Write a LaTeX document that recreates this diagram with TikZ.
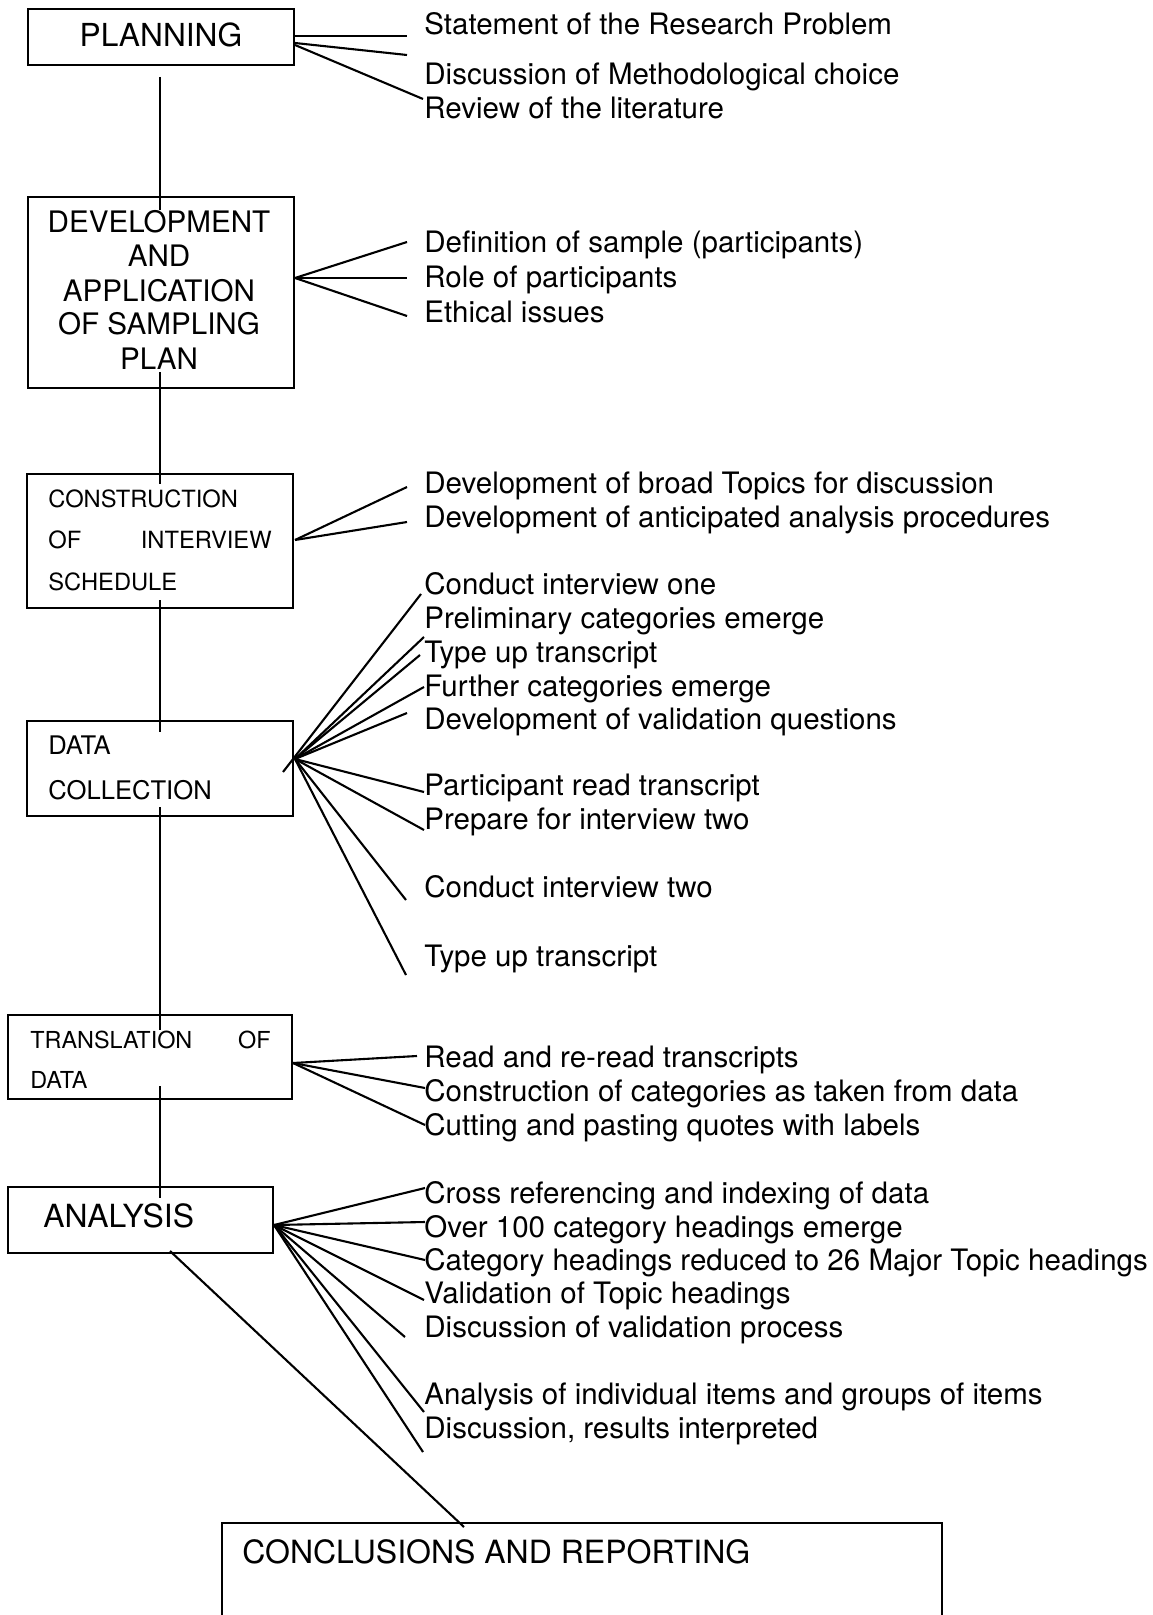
\documentclass[tikz,border=0pt]{standalone}
\usepackage{fontspec}
\setmainfont{TeX Gyre Heros}
\begin{document}
\begin{tikzpicture}[x=0.5pt,y=-0.5pt,
  box/.style={draw, line width=1.3pt, inner sep=0pt},
  conn/.style={line width=1.05pt},
  item/.style={anchor=base west, inner sep=0pt, font=\fontsize{14.75}{17}\selectfont},
  btxt/.style={inner sep=0pt, font=\fontsize{#1}{17}\selectfont},
]
\useasboundingbox (0,0) rectangle (1152,1615);

% ---------- boxes ----------
\node[box, minimum width=133pt, minimum height=28pt] (plan) at (161,37) {};
\node[box, minimum width=133pt, minimum height=95.5pt] (dev) at (161,292.5) {};
\node[box, minimum width=133pt, minimum height=67pt] (cons) at (160,541) {};
\node[box, minimum width=133pt, minimum height=47.5pt] (data) at (160,768.5) {};
\node[box, minimum width=142pt, minimum height=42pt] (trans) at (150,1057) {};
\node[box, minimum width=132.5pt, minimum height=33pt] (anal) at (140.5,1220) {};
\node[box, minimum width=360pt, minimum height=58.5pt] (conc) at (582,1581.5) {};

% ---------- box texts ----------
\node[btxt=15.85, anchor=base] (tplan) at (161,47) {PLANNING};
\node[btxt=14.8, anchor=base] (tdev1) at (159,233) {DEVELOPMENT};
\node[btxt=14.8, anchor=base] (tdev2) at (159,267) {AND};
\node[btxt=14.8, anchor=base] (tdev3) at (159,302) {APPLICATION};
\node[btxt=14.8, anchor=base] (tdev4) at (159,335) {OF SAMPLING};
\node[btxt=14.8, anchor=base] (tdev5) at (159,370) {PLAN};
\node[btxt=11.85, anchor=base west] (tcons1) at (48,507) {CONSTRUCTION};
\node[btxt=11.85, anchor=base west] (tcons2) at (48,548) {OF};
\node[btxt=11.85, anchor=base east] (tcons3) at (272,548) {INTERVIEW};
\node[btxt=11.85, anchor=base west] (tcons4) at (48,590) {SCHEDULE};
\node[btxt=12.8, anchor=base west] (tdata1) at (48,754) {DATA};
\node[btxt=12.8, anchor=base west] (tdata2) at (48,799) {COLLECTION};
\node[btxt=11.7, anchor=base west] (ttr1) at (30,1048) {TRANSLATION};
\node[btxt=11.7, anchor=base east] (ttr2) at (271,1048) {OF};
\node[btxt=11.7, anchor=base west] (ttr3) at (30,1088) {DATA};
\node[btxt=15.95, anchor=base west] (tanal) at (43,1227) {ANALYSIS};
\node[btxt=16, anchor=base west] (tconc) at (242,1563) {CONCLUSIONS AND REPORTING};

% ---------- item texts ----------
\node[item] (i1) at (424,35) {Statement of the Research Problem};
\node[item] (i2) at (424,85) {Discussion of Methodological choice};
\node[item] (i3) at (424,119) {Review of the literature};
\node[item] (i4) at (424,253) {Definition of sample (participants)};
\node[item] (i5) at (424,288) {Role of participants};
\node[item] (i6) at (424,322) {Ethical issues};
\node[item] (i7) at (424,493) {Development of broad Topics for discussion};
\node[item] (i8) at (424,527) {Development of anticipated analysis procedures};
\node[item] (i9) at (424,594) {Conduct interview one};
\node[item] (i10) at (424,628) {Preliminary categories emerge};
\node[item] (i11) at (424,662) {Type up transcript};
\node[item] (i12) at (424,696) {Further categories emerge};
\node[item] (i13) at (424,729) {Development of validation questions};
\node[item] (i14) at (424,795) {Participant read transcript};
\node[item] (i15) at (424,829) {Prepare for interview two};
\node[item] (i16) at (424,897) {Conduct interview two};
\node[item] (i17) at (424,966) {Type up transcript};
\node[item] (i18) at (424,1067) {Read and re-read transcripts};
\node[item] (i19) at (424,1101) {Construction of categories as taken from data};
\node[item] (i20) at (424,1135) {Cutting and pasting quotes with labels};
\node[item] (i21) at (424,1203) {Cross referencing and indexing of data};
\node[item] (i22) at (424,1237) {Over 100 category headings emerge};
\node[item] (i23) at (424,1270) {Category headings reduced to 26 Major Topic headings};
\node[item] (i24) at (424,1303) {Validation of Topic headings};
\node[item] (i25) at (424,1337) {Discussion of validation process};
\node[item] (i26) at (424,1404) {Analysis of individual items and groups of items};
\node[item] (i27) at (424,1438) {Discussion, results interpreted};

% ---------- vertical connector points ----------
\coordinate (v1a) at (160,77);   \coordinate (v1b) at (160,210);
\coordinate (v2a) at (160,372);  \coordinate (v2b) at (160,484);
\coordinate (v3a) at (160,600);  \coordinate (v3b) at (160,732);
\coordinate (v4a) at (160,807);  \coordinate (v4b) at (160,1030);
\coordinate (v5a) at (160,1086); \coordinate (v5b) at (160,1198);
\draw[conn] (v1a) -- (v1b);
\draw[conn] (v2a) -- (v2b);
\draw[conn] (v3a) -- (v3b);
\draw[conn] (v4a) -- (v4b);
\draw[conn] (v5a) -- (v5b);

% analysis -> conclusions
\coordinate (ac) at (170,1251);
\coordinate (ca) at (464,1527);
\draw[conn] (ac) -- (ca);

% ---------- fans ----------
% planning
\coordinate (pf1) at (295,36); \coordinate (pf2) at (295,43); \coordinate (pf3) at (295,45);
\coordinate (pe1) at (407,36); \coordinate (pe2) at (407,55); \coordinate (pe3) at (423,99);
\draw[conn] (pf1) -- (pe1);
\draw[conn] (pf2) -- (pe2);
\draw[conn] (pf3) -- (pe3);

% development
\coordinate (df) at (295,278);
\coordinate (de1) at (407,242); \coordinate (de2) at (407,278); \coordinate (de3) at (407,316);
\foreach \e in {de1,de2,de3} \draw[conn] (df) -- (\e);

% construction
\coordinate (cf) at (295,540);
\coordinate (ce1) at (407,487); \coordinate (ce2) at (407,522);
\foreach \e in {ce1,ce2} \draw[conn] (cf) -- (\e);

% data collection
\coordinate (dcf) at (295,759);
\coordinate (dct) at (283,772);
\coordinate (dce1) at (421,594);
\coordinate (dce2) at (424,637);
\coordinate (dce3) at (420,655);
\coordinate (dce4) at (424,687);
\coordinate (dce5) at (407,713);
\coordinate (dce6) at (424,792);
\coordinate (dce7) at (424,830);
\coordinate (dce8) at (406,900);
\coordinate (dce9) at (406,975);
\draw[conn] (dct) -- (dce1);
\foreach \e in {dce2,dce3,dce4,dce5,dce6,dce7,dce8,dce9} \draw[conn] (dcf) -- (\e);

% translation
\coordinate (tf) at (293,1063);
\coordinate (te1) at (417,1056); \coordinate (te2) at (425,1088); \coordinate (te3) at (425,1125);
\foreach \e in {te1,te2,te3} \draw[conn] (tf) -- (\e);

% analysis
\coordinate (af) at (274,1225);
\coordinate (ae1) at (425,1188);
\coordinate (ae2) at (425,1222);
\coordinate (ae3) at (425,1260);
\coordinate (ae4) at (424,1300);
\coordinate (ae5) at (405,1337);
\coordinate (ae6) at (424,1412);
\coordinate (ae7) at (423,1452);
\foreach \e in {ae1,ae2,ae3,ae4,ae5,ae6,ae7} \draw[conn] (af) -- (\e);
\end{tikzpicture}
\end{document}
